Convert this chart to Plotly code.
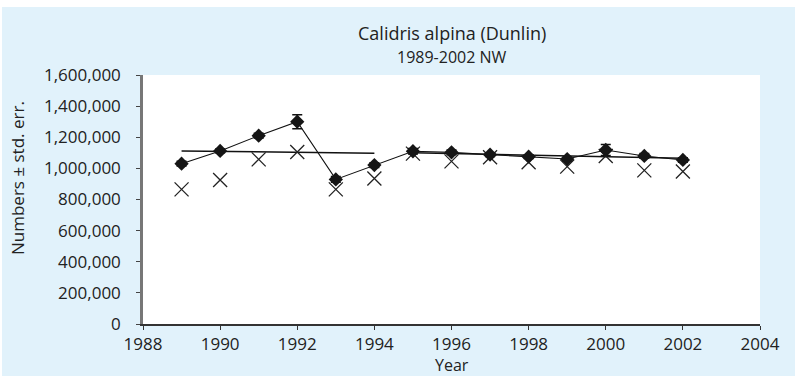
import plotly.graph_objects as go

# Dunlin (Calidris alpina) counts, NW region, 1989-2002
years = [1989, 1990, 1991, 1992, 1993, 1994, 1995, 1996, 1997, 1998, 1999, 2000, 2001, 2002]
numbers = [1030000, 1112000, 1210000, 1300000, 929000, 1021000, 1110000, 1103000,
           1088000, 1075000, 1060000, 1118000, 1080000, 1054000]
std_err = [15000, 12000, 15000, 45000, 18000, 15000, 18000, 15000, 12000, 12000,
           12000, 35000, 15000, 15000]
# Second index (crosses)
index_x = [865000, 925000, 1058000, 1105000, 865000, 935000, 1095000, 1045000,
           1071000, 1039000, 1011000, 1080000, 987000, 980000]
# Period trend lines
trend1_years = [1989, 1994]
trend1_vals = [1112000, 1097000]
trend2_years = [1995, 2002]
trend2_vals = [1100000, 1065000]

x_ticks = list(range(1988, 2005, 2))
y_ticks = list(range(0, 1600001, 200000))

FONT = "Open Sans"
BG = "#e1f2fb"
TXT = "#222222"

W, H = 795, 376
L, R, T, B = 143, 35, 75, 52
PW, PH = W - L - R, H - T - B

fig = go.Figure()

fig.add_trace(go.Scatter(
    x=trend1_years, y=trend1_vals, mode="lines",
    line=dict(color="#111111", width=1.5), showlegend=False, hoverinfo="skip"))
fig.add_trace(go.Scatter(
    x=trend2_years, y=trend2_vals, mode="lines",
    line=dict(color="#111111", width=1.5), showlegend=False, hoverinfo="skip"))

fig.add_trace(go.Scatter(
    x=years, y=index_x, mode="markers",
    marker=dict(symbol="x-thin", size=14, line=dict(color="#222222", width=1.3)),
    showlegend=False))

fig.add_trace(go.Scatter(
    x=years, y=numbers, mode="lines+markers",
    line=dict(color="#111111", width=1.1),
    marker=dict(symbol="diamond", size=11, color="#151515"),
    error_y=dict(type="data", array=std_err, visible=True, color="#111111",
                 thickness=1.5, width=5),
    showlegend=False))

px = lambda v: v / PW  # pixel -> paper (x)
py = lambda v: v / PH  # pixel -> paper (y)

fig.update_layout(
    width=W, height=H,
    margin=dict(l=L, r=R, t=T, b=B, pad=0),
    paper_bgcolor=BG, plot_bgcolor="white",
    font=dict(family=FONT, size=17, color=TXT),
    xaxis=dict(range=[1988, 2004], tickvals=x_ticks, showgrid=False, zeroline=False,
               showline=True, linecolor="#333333", linewidth=1.5,
               ticks="outside", ticklen=4, tickcolor="#333333", tickwidth=1.2,
               ticklabelstandoff=0,
               tickfont=dict(size=17, family=FONT, color=TXT)),
    yaxis=dict(range=[0, 1600000], tickvals=y_ticks, tickformat=",", showgrid=False,
               zeroline=False, showline=True, linecolor="#777777", linewidth=2.5,
               ticks="outside", ticklen=4, tickcolor="#444444", tickwidth=1.2,
               ticklabelstandoff=12,
               tickfont=dict(size=17, family=FONT, color=TXT)),
    shapes=[
        dict(type="rect", xref="paper", yref="paper", layer="below",
             x0=-px(L) - 0.01, x1=1 + px(R) + 0.01,
             y0=1 + py(T - 7), y1=1 + py(T) + 0.02,
             fillcolor="white", line=dict(width=0)),
        dict(type="rect", xref="paper", yref="paper", layer="below",
             x0=-px(L) - 0.01, x1=-px(L - 2),
             y0=-py(B) - 0.02, y1=1 + py(T) + 0.02,
             fillcolor="white", line=dict(width=0)),
    ],
    annotations=[
        dict(text="Calidris alpina (Dunlin)", xref="paper", yref="paper",
             x=0.5, y=1 + py(T - 33), showarrow=False, xanchor="center", yanchor="middle",
             font=dict(size=18, family=FONT, color=TXT)),
        dict(text="1989-2002 NW", xref="paper", yref="paper",
             x=0.5, y=1 + py(T - 57), showarrow=False, xanchor="center", yanchor="middle",
             font=dict(size=16, family=FONT, color=TXT)),
        dict(text="Numbers ± std. err.", xref="paper", yref="paper",
             x=-px(L - 17), y=py(H - B - 178), textangle=-90, showarrow=False,
             xanchor="center", yanchor="middle",
             font=dict(size=17, family=FONT, color=TXT)),
        dict(text="Year", xref="paper", yref="paper",
             x=0.5, y=-py(365 - (H - B)), showarrow=False,
             xanchor="center", yanchor="middle",
             font=dict(size=16, family=FONT, color=TXT)),
    ],
)

fig.write_html("out.html")
